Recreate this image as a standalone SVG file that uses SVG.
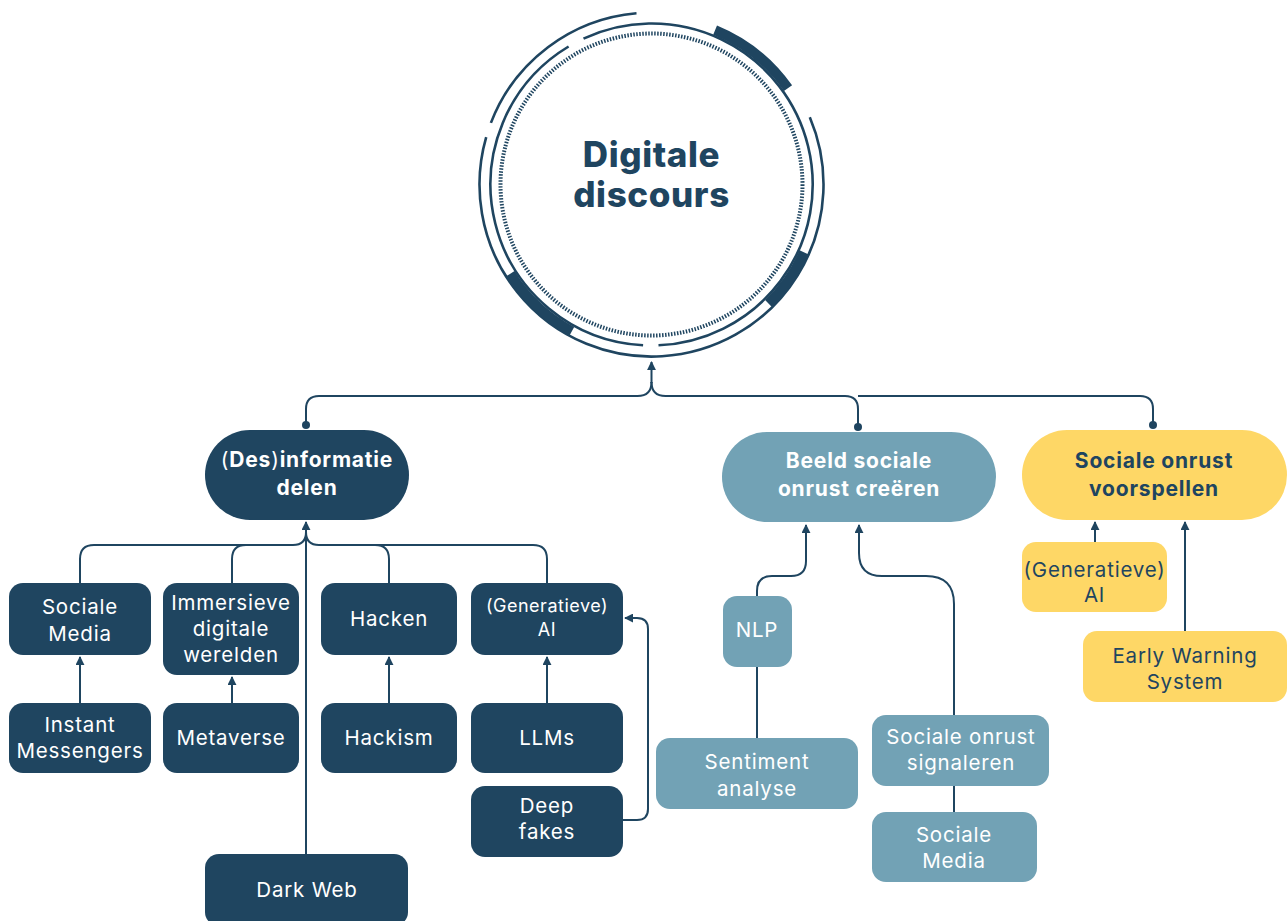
<svg xmlns="http://www.w3.org/2000/svg" width="1287" height="921" viewBox="0 0 1287 921">
<defs>
<marker id="arr" viewBox="0 0 10 10" refX="9" refY="5" markerWidth="4.5" markerHeight="4.5" orient="auto" markerUnits="strokeWidth">
<path d="M0,0 L10,5 L0,10 Z" fill="#1f4560"/>
</marker>
<style>
.ln{fill:none;stroke:#1f4560;stroke-width:2}
.dot{fill:#1f4560}
.ring{fill:none;stroke:#1f4560;stroke-width:2.6}
.thick{fill:none;stroke:#1f4560;stroke-width:10}
.dark{fill:#1f4560}
.blue{fill:#72a2b5}
.yel{fill:#fed766}
text{font-family:Inter,"Liberation Sans",Arial,sans-serif;text-anchor:middle}
.t{fill:#ffffff;font-size:20.5px;letter-spacing:0.8px}
.ts{fill:#ffffff;font-size:18px;letter-spacing:0.5px}
.tb{fill:#ffffff;font-size:21px;font-weight:700;letter-spacing:0.8px}
.nv{fill:#1f4560}
.title{fill:#1f4560;font-size:35px;font-weight:800;letter-spacing:0.6px}
</style>
</defs>
<rect width="1287" height="921" fill="#ffffff"/>

<g id="connectors">
<path class="ln" d="M651.5,383 L651.5,362" marker-end="url(#arr)"/>
<path class="ln" d="M651.5,382 Q651.5,396 637.5,396 L319,396 Q306,396 306,409 L306,425"/>
<path class="ln" d="M651.5,382 Q651.5,396 665.5,396 L845,396 Q858,396 858,409 L858,427"/>
<path class="ln" d="M858,396 L1140,396 Q1153,396 1153,409 L1153,425"/>
<circle class="dot" cx="306" cy="425" r="4"/>
<circle class="dot" cx="858" cy="427" r="4"/>
<circle class="dot" cx="1153" cy="425" r="4"/>

<path class="ln" d="M306,854 L306,522" marker-end="url(#arr)"/>
<path class="ln" d="M80,583 L80,559 Q80,545 94,545 L293,545 Q306,545 306,532"/>
<path class="ln" d="M232,583 L232,559 Q232,545 246,545"/>
<path class="ln" d="M306,532 Q306,545 319,545 L375,545 Q389,545 389,559 L389,583"/>
<path class="ln" d="M375,545 L533,545 Q547,545 547,559 L547,583"/>
<path class="ln" d="M80,703 L80,657" marker-end="url(#arr)"/>
<path class="ln" d="M232,703 L232,677" marker-end="url(#arr)"/>
<path class="ln" d="M389,703 L389,657" marker-end="url(#arr)"/>
<path class="ln" d="M547,703 L547,657" marker-end="url(#arr)"/>
<path class="ln" d="M623,820 L637,820 Q648,820 648,809 L648,629 Q648,618 637,618 L625,618" marker-end="url(#arr)"/>

<path class="ln" d="M757,596 L757,591 Q757,576 772,576 L791,576 Q806,576 806,561 L806,525" marker-end="url(#arr)"/>
<path class="ln" d="M954,715 L954,604 Q954,576 926,576 L882,576 Q859,576 859,553 L859,525" marker-end="url(#arr)"/>
<path class="ln" d="M757,667 L757,738"/>
<path class="ln" d="M954,786 L954,812"/>

<path class="ln" d="M1095,542 L1095,522" marker-end="url(#arr)"/>
<path class="ln" d="M1185,631 L1185,522" marker-end="url(#arr)"/>
</g>

<g id="digitale-discours">
<circle cx="651.5" cy="184.5" r="151" fill="none" stroke="#1f4560" stroke-width="4" stroke-dasharray="1.5 1.5"/>
<path class="ring" d="M809.8,117.3 A172,172 0 1 1 486.2,137.1"/>
<path class="ring" d="M490.9,122.9 A172,172 0 0 1 636.5,13.2"/>
<path class="ring" d="M583.5,38.6 A161,161 0 1 1 658.5,345.3"/>
<path class="ring" d="M643.1,345.3 A161,161 0 0 1 568.6,46.5"/>
<path class="thick" d="M715.1,30.1 A167,167 0 0 1 788.0,88.2"/>
<path class="thick" d="M804.1,252.4 A167,167 0 0 1 768.6,303.6"/>
<path class="thick" d="M571.8,331.3 A167,167 0 0 1 510.3,273.7"/>
<text class="title" x="651.5" y="167">Digitale</text>
<text class="title" x="651.5" y="207">discours</text>
</g>

<g id="desinformatie-delen">
<rect class="dark" x="205" y="430" width="204" height="90" rx="45"/>
<text class="tb" x="307" y="467"><tspan font-weight="400">(</tspan>Des<tspan font-weight="400">)</tspan>informatie</text>
<text class="tb" x="307" y="495">delen</text>
</g>

<g id="beeld-sociale-onrust">
<rect class="blue" x="722" y="432" width="274" height="90" rx="45"/>
<text class="tb" x="859" y="468">Beeld sociale</text>
<text class="tb" x="859" y="496">onrust creëren</text>
</g>

<g id="sociale-onrust-voorspellen">
<rect class="yel" x="1022" y="430" width="265" height="90" rx="45"/>
<text class="tb nv" x="1154" y="468">Sociale onrust</text>
<text class="tb nv" x="1154" y="496">voorspellen</text>
</g>

<g id="sociale-media">
<rect class="dark" x="9" y="583" width="142" height="72" rx="14"/>
<text class="t" x="80" y="614">Sociale</text>
<text class="t" x="80" y="641">Media</text>
</g>

<g id="immersieve">
<rect class="dark" x="163" y="583" width="136" height="92" rx="14"/>
<text class="t" x="231" y="610">Immersieve</text>
<text class="t" x="231" y="636">digitale</text>
<text class="t" x="231" y="662">werelden</text>
</g>

<g id="hacken">
<rect class="dark" x="321" y="583" width="136" height="72" rx="14"/>
<text class="t" x="389" y="626">Hacken</text>
</g>

<g id="generatieve-ai">
<rect class="dark" x="471" y="583" width="152" height="72" rx="14"/>
<text class="ts" x="547" y="612">(Generatieve)</text>
<text class="ts" x="547" y="636">AI</text>
</g>

<g id="instant-messengers">
<rect class="dark" x="9" y="703" width="142" height="70" rx="14"/>
<text class="t" x="80" y="732">Instant</text>
<text class="t" x="80" y="758">Messengers</text>
</g>

<g id="metaverse">
<rect class="dark" x="163" y="703" width="136" height="70" rx="14"/>
<text class="t" x="231" y="745">Metaverse</text>
</g>

<g id="hackism">
<rect class="dark" x="321" y="703" width="136" height="70" rx="14"/>
<text class="t" x="389" y="745">Hackism</text>
</g>

<g id="llms">
<rect class="dark" x="471" y="703" width="152" height="70" rx="14"/>
<text class="t" x="547" y="745">LLMs</text>
</g>

<g id="deep-fakes">
<rect class="dark" x="471" y="786" width="152" height="71" rx="14"/>
<text class="t" x="547" y="813">Deep</text>
<text class="t" x="547" y="839">fakes</text>
</g>

<g id="dark-web">
<rect class="dark" x="205" y="854" width="203" height="72" rx="14"/>
<text class="t" x="307" y="897">Dark Web</text>
</g>

<g id="nlp">
<rect class="blue" x="723" y="596" width="69" height="71" rx="14"/>
<text class="t" x="757" y="637">NLP</text>
</g>

<g id="sentiment-analyse">
<rect class="blue" x="656" y="738" width="202" height="71" rx="14"/>
<text class="t" x="757" y="769">Sentiment</text>
<text class="t" x="757" y="796">analyse</text>
</g>

<g id="sociale-onrust-signaleren">
<rect class="blue" x="872" y="715" width="177" height="71" rx="14"/>
<text class="t" x="961" y="744">Sociale onrust</text>
<text class="t" x="961" y="770">signaleren</text>
</g>

<g id="sociale-media-2">
<rect class="blue" x="872" y="812" width="165" height="70" rx="14"/>
<text class="t" x="954" y="842">Sociale</text>
<text class="t" x="954" y="868">Media</text>
</g>

<g id="generatieve-ai-2">
<rect class="yel" x="1022" y="542" width="145" height="70" rx="14"/>
<text class="t nv" x="1094.5" y="577">(Generatieve)</text>
<text class="t nv" x="1094.5" y="602">AI</text>
</g>

<g id="early-warning-system">
<rect class="yel" x="1083" y="631" width="204" height="71" rx="14"/>
<text class="t nv" x="1185" y="663">Early Warning</text>
<text class="t nv" x="1185" y="689">System</text>
</g>
</svg>
